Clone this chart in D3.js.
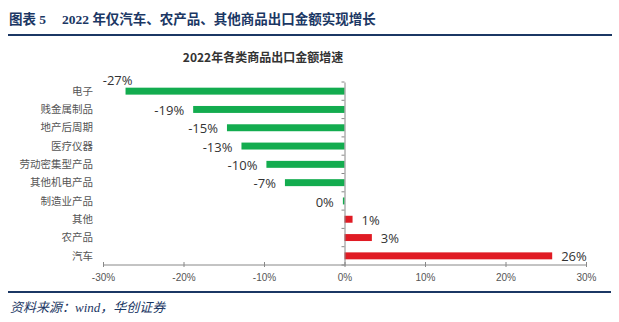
<!DOCTYPE html>
<html lang="zh">
<head>
<meta charset="UTF-8">
<style>
  body { margin: 0; background: #fff; }
  svg { display: block; }
</style>
</head>
<body>
<script src="https://cdn.jsdelivr.net/npm/d3@7"></script>
<script>
  var categories = ['电子', '贱金属制品', '地产后周期', '医疗仪器', '劳动密集型产品', '其他机电产品', '制造业产品', '其他', '农产品', '汽车']
  var values = [-27.2, -18.8, -14.6, -12.8, -9.7, -7.4, -0.2, 1.0, 3.4, 25.8]
  var labels = ['-27%', '-19%', '-15%', '-13%', '-10%', '-7%', '0%', '1%', '3%', '26%']
  var ticks = [-30, -20, -10, 0, 10, 20, 30]

  var width = 619, height = 322
  var navy = '#1b3764'
  var svg = d3.select('body').append('svg').attr('width', width).attr('height', height)

  // page header
  var head = svg.append('text')
    .attr('x', 9).attr('y', 24)
    .attr('font-family', '"Liberation Serif", "Noto Sans CJK SC", serif')
    .attr('font-weight', 'bold').attr('font-size', 13.5)
    .attr('fill', navy)
  head.append('tspan').text('图表 5')
  head.append('tspan').attr('x', 62).text('2022 年仅汽车、农产品、其他商品出口金额实现增长')

  svg.append('line').attr('x1', 8).attr('x2', 612).attr('y1', 35).attr('y2', 35)
    .attr('stroke', navy).attr('stroke-width', 2.2)
  svg.append('line').attr('x1', 8).attr('x2', 611).attr('y1', 292).attr('y2', 292)
    .attr('stroke', navy).attr('stroke-width', 2.2)

  svg.append('text')
    .attr('x', 10).attr('y', 312)
    .attr('font-family', '"Liberation Serif", "Noto Sans CJK SC", serif')
    .attr('font-style', 'italic').attr('font-size', 13)
    .attr('fill', navy)
    .text('资料来源：wind，华创证券')

  // chart title
  svg.append('text')
    .attr('x', 263).attr('y', 62)
    .attr('text-anchor', 'middle')
    .attr('font-family', '"Noto Sans CJK SC", sans-serif')
    .attr('font-weight', 'bold').attr('font-size', 12)
    .attr('fill', '#333')
    .text('2022年各类商品出口金额增速')

  var x = d3.scaleLinear().domain([-30, 30]).range([103, 586])
  var y = d3.scaleBand().domain(categories).range([82, 265]).paddingInner(0.62).paddingOuter(0.31)

  var g = svg.append('g')

  g.selectAll('.bar')
    .data(values)
    .enter()
    .append('rect')
      .attr('class', 'bar')
      .attr('x', function(d) { return x(Math.min(0, d)) })
      .attr('width', function(d) { return Math.abs(x(d) - x(0)) })
      .attr('y', function(d, i) { return y(categories[i]) })
      .attr('height', y.bandwidth())
      .attr('fill', function(d) { return d < 0 ? '#13ac4f' : '#e01b24' })

  // x axis
  var xAxis = g.append('g')
    .attr('transform', 'translate(0,265)')
    .call(d3.axisBottom(x).tickValues(ticks).tickSize(3).tickFormat(function(d) { return d + '%' }))
  xAxis.select('.domain').attr('stroke', '#888').attr('d', 'M103,0H586')
  xAxis.selectAll('.tick line').attr('stroke', '#888').attr('y1', -3).attr('y2', 2)
  xAxis.selectAll('.tick text')
    .attr('dy', '0.95em')
    .attr('font-family', '"Liberation Sans Narrow", "Liberation Sans", sans-serif')
    .attr('font-size', 10).attr('fill', '#555')

  // y axis at zero
  var yAxis = g.append('g')
    .attr('transform', 'translate(' + x(0) + ',0)')
    .call(d3.axisLeft(y).tickSize(0).tickFormat(''))
  yAxis.select('.domain').attr('stroke', '#888')
  var step = y.step()
  g.selectAll('.ytick')
    .data(d3.range(categories.length + 1))
    .enter()
    .append('line')
      .attr('class', 'ytick')
      .attr('x1', x(0) - 3).attr('x2', x(0))
      .attr('y1', function(i) { return 82 + i * step }).attr('y2', function(i) { return 82 + i * step })
      .attr('stroke', '#888')

  // category labels
  g.selectAll('.cat')
    .data(categories)
    .enter()
    .append('text')
      .attr('class', 'cat')
      .attr('x', 93)
      .attr('y', function(d) { return y(d) + y.bandwidth() / 2 })
      .attr('dy', '0.35em')
      .attr('text-anchor', 'end')
      .attr('font-family', '"Noto Sans CJK SC", sans-serif')
      .attr('font-size', 10.5).attr('fill', '#555')
      .text(function(d) { return d })

  // value labels
  g.selectAll('.val')
    .data(values)
    .enter()
    .append('text')
      .attr('class', 'val')
      .attr('x', function(d) { return d < 0 ? x(d) - 9 : x(d) + 9 })
      .attr('y', function(d, i) { return y(categories[i]) + y.bandwidth() / 2 + (i === 0 ? -11 : 1) })
      .attr('dy', '0.35em')
      .attr('text-anchor', function(d) { return d < 0 ? 'end' : 'start' })
      .attr('dx', function(d, i) { return i === 0 ? 16 : 0 })
      .attr('font-family', '"Open Sans", "Liberation Sans", sans-serif')
      .attr('font-size', 13).attr('fill', '#333')
      .text(function(d, i) { return labels[i] })
</script>
</body>
</html>
